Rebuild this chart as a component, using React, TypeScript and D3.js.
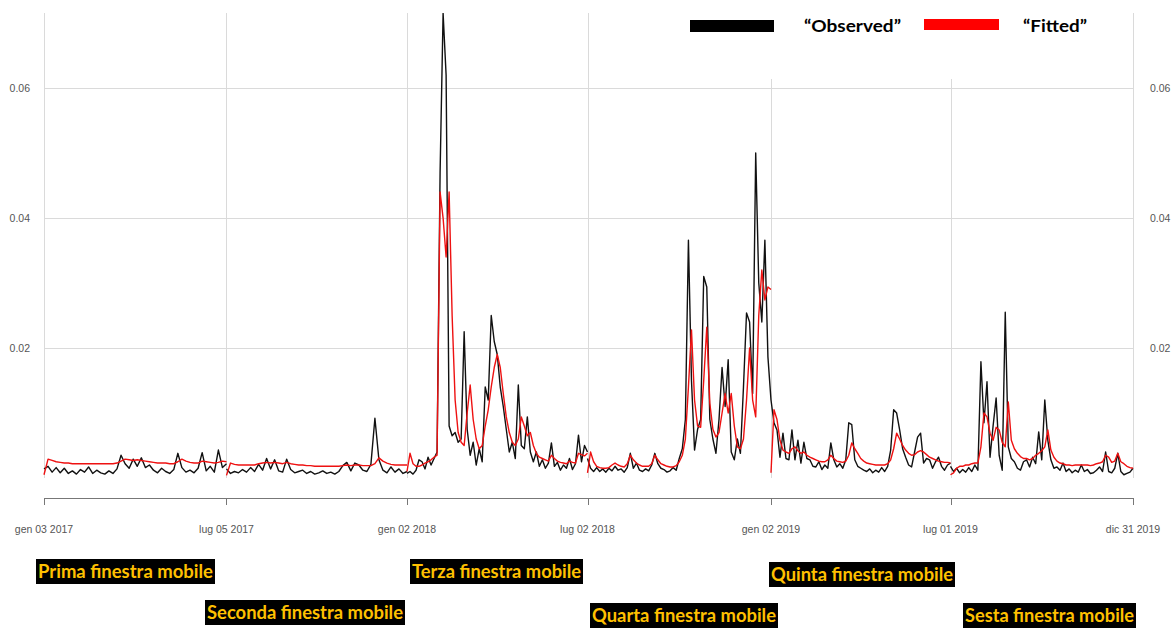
import React, { useEffect, useRef } from 'react';
import * as d3 from 'd3';

// rolling window boundaries (also the x axis ticks)
const windowDates = ['2017-01-03', '2017-07-05', '2018-01-02', '2018-07-02', '2019-01-02', '2019-07-01', '2019-12-31'];
const tickLabels = ['gen 03 2017', 'lug 05 2017', 'gen 02 2018', 'lug 02 2018', 'gen 02 2019', 'lug 01 2019', 'dic 31 2019'];
const yTicks = [0.02, 0.04, 0.06];
const windowNames = [
  'Prima finestra mobile',
  'Seconda finestra mobile',
  'Terza finestra mobile',
  'Quarta finestra mobile',
  'Quinta finestra mobile',
  'Sesta finestra mobile',
];

// series values, in thousandths (x 0.001), one array per window
const observed1 = [1.4, 1.8, 0.9, 1.6, 0.8, 1.5, 0.7, 1.1, 0.6, 1.3, 0.9, 1.7, 0.7, 1.2, 0.8, 0.6, 1.1, 0.7, 1.4, 3.5,
  2.2, 1.5, 2.9, 1.8, 3.1, 1.6, 2.0, 1.2, 0.8, 1.5, 1.0, 0.7, 1.3, 3.8, 1.6, 0.9, 1.2, 0.8, 1.5, 3.9,
  1.1, 1.8, 0.9, 4.3, 1.6, 2.2];
const fitted1 = [0.5, 2.9, 2.7, 2.5, 2.4, 2.3, 2.3, 2.2, 2.2, 2.2, 2.2, 2.2, 2.2, 2.2, 2.2, 2.2, 2.2, 2.2, 2.3, 2.6,
  2.9, 2.8, 2.7, 2.8, 2.7, 2.6, 2.5, 2.4, 2.3, 2.3, 2.3, 2.2, 2.2, 2.5, 2.9, 2.6, 2.4, 2.3, 2.3, 2.6,
  2.5, 2.4, 2.3, 2.4, 2.6, 2.5];

const observed2 = [1.4, 0.7, 1.0, 0.8, 1.3, 0.9, 1.6, 1.0, 2.1, 1.2, 3.0, 1.4, 2.8, 1.1, 0.9, 2.9, 1.3, 0.8, 1.0, 1.2,
  0.7, 1.0, 0.6, 0.8, 1.1, 0.7, 0.9, 0.6, 1.0, 1.9, 2.4, 1.1, 2.3, 2.0, 1.2, 1.0, 2.1, 9.2, 2.8, 1.2,
  0.8, 1.7, 0.9, 1.4, 0.7, 1.0];
const fitted2 = [0.4, 2.3, 2.1, 2.0, 2.0, 2.0, 2.0, 2.0, 2.2, 2.3, 2.4, 2.3, 2.4, 2.3, 2.2, 2.4, 2.2, 2.1, 2.0, 2.0,
  1.9, 1.9, 1.8, 1.8, 1.8, 1.8, 1.8, 1.8, 1.8, 1.9, 2.0, 1.9, 2.0, 2.0, 1.9, 1.9, 1.9, 2.2, 3.1, 2.6,
  2.3, 2.1, 2.0, 2.0, 2.0, 2.0];

const observed3 = [0.7, 1.0, 0.6, 1.2, 2.8, 2.5, 1.4, 3.2, 2.0, 3.0,
  4.0, 47, 71.5, 62, 8, 6.5, 7.0, 5.5, 6.0, 22.5,
  7.5, 3.5, 5.5, 2.0, 4.5, 2.5, 14, 12, 25, 21,
  19, 14, 11, 7.5, 4.0, 5.5, 3.0, 14.3, 5.0, 4.5,
  9.4, 4.0, 2.5, 4.0, 1.8, 2.8, 1.5, 2.3, 5.4, 1.8,
  2.4, 1.2, 2.0, 1.5, 3.0, 1.3, 2.2, 6.6, 2.5, 5.0,
  4.0];
const fitted3 = [1.0, 3.8, 2.2, 1.8, 1.8, 2.0, 2.3, 2.5, 2.8, 3.2,
  3.5, 44, 40, 34, 44, 25, 12, 7, 5.5, 5,
  10, 14.3, 9, 6, 4.5, 5, 8, 10.5, 14, 17,
  19, 17, 13, 9.4, 7, 5.5, 5, 6, 9.4, 8,
  6.5, 7, 5, 3.8, 3.2, 3.0, 2.8, 2.6, 3.5, 3.0,
  2.6, 2.4, 2.3, 2.2, 2.6, 2.4, 2.3, 3.8, 3.6, 3.4,
  3.8];

const observed4 = [3.0, 1.5, 1.0, 1.6, 1.0, 1.4, 0.9, 1.5, 1.1, 1.8,
  1.2, 1.4, 0.9, 1.6, 3.8, 1.5, 2.3, 1.2, 1.0, 1.4,
  1.1, 2.0, 3.8, 2.2, 1.5, 1.3, 0.9, 1.1, 1.6, 1.2,
  3.0, 4.5, 9, 36.6, 15, 4.3, 7.5, 9, 31, 29.4,
  9, 6, 3.8, 9, 17, 11, 18.2, 4, 2.8, 6,
  3.8, 14, 25.4, 24, 13, 50, 30, 24, 36.6, 18.6,
  12];
const fitted4 = [0.8, 4.0, 2.5, 1.8, 1.6, 1.5, 1.5, 1.6, 2.0, 2.3,
  2.0, 1.8, 1.7, 2.2, 3.5, 2.8, 2.3, 2.0, 1.8, 1.8,
  1.8, 2.2, 3.5, 2.8, 2.2, 2.0, 1.8, 1.7, 1.7, 1.9,
  2.5, 3.5, 6, 14, 22.8, 12, 8, 7.8, 15, 23.2,
  11.5, 7.5, 6.3, 7, 10, 13, 10, 13, 8, 4.8,
  4.5, 6, 12, 20, 12, 9.4, 25, 32, 27.4, 29.4,
  29];

const observed5 = [12, 8.5, 7.4, 3.2, 6.9, 3.0, 2.8, 7.4, 2.8, 5.8,
  2.3, 5.5, 3.0, 2.8, 1.8, 1.7, 2.5, 1.3, 2.0, 1.5,
  5.4, 2.8, 1.7, 2.2, 1.5, 2.8, 8.5, 8.2, 2.8, 1.8,
  1.5, 1.2, 1.0, 1.4, 0.8, 1.2, 0.9, 1.6, 1.0, 1.8,
  4.3, 10.5, 10.0, 7.4, 4.5, 3.2, 2.0, 1.7, 4.0, 6.3,
  6.9, 2.3, 3.0, 2.8, 1.5, 2.5, 3.2, 1.8, 1.2, 2.0,
  2.3];
const fitted5 = [0.8, 10.5, 9, 5.8, 4.3, 4.0, 3.8, 4.5, 4.8, 4.2,
  3.8, 4.0, 3.5, 3.2, 3.0, 2.8, 2.6, 2.5, 2.5, 2.8,
  3.5, 3.0, 2.6, 2.5, 2.4, 2.6, 3.5, 5.4, 4.5, 3.8,
  3.0, 2.6, 2.3, 2.2, 2.1, 2.0, 2.0, 2.0, 2.0, 2.2,
  2.8, 4.5, 6.9, 6.0, 5.0, 4.3, 3.8, 3.5, 3.6, 4.0,
  4.2, 4.0, 3.6, 3.2, 3.0, 2.8, 2.6, 2.5, 2.4, 2.4,
  2.3];

const observed6 = [1.8, 1.0, 1.5, 0.8, 1.3, 0.9, 1.6, 1.0, 2.0, 1.2,
  17.9, 8.5, 14.8, 3.2, 8, 12.3, 3.5, 1.2, 25.5, 4.8,
  3.0, 2.5, 1.5, 1.2, 2.5, 2.8, 1.7, 3.2, 2.2, 7.1,
  2.8, 12, 5.8, 2.8, 1.5, 1.7, 1.2, 2.3, 1.0, 1.4,
  0.8, 1.2, 0.9, 2.0, 1.0, 1.3, 0.7, 0.8, 1.2, 1.7,
  1.0, 4.0, 1.0, 0.8, 1.5, 3.8, 1.0, 0.5, 0.7, 0.9,
  1.5];
const fitted6 = [0.5, 0.8, 1.5, 1.8, 1.8, 2.0, 2.0, 2.2, 2.3, 2.3,
  4.8, 10, 9.4, 6.9, 5.8, 7.8, 7.4, 5.5, 4.8, 11.7,
  5.8, 4.5, 3.8, 3.3, 3.0, 3.0, 2.8, 3.0, 3.5, 3.8,
  4.2, 4.8, 7.4, 4.3, 3.2, 2.6, 2.3, 2.2, 2.0, 2.0,
  1.9, 2.0, 2.0, 2.0, 2.0, 2.0, 1.9, 2.0, 2.2, 2.3,
  2.5, 3.5, 3.2, 2.4, 2.6, 3.8, 2.5, 2.2, 1.8, 1.6,
  1.5];

const observedWindows = [observed1, observed2, observed3, observed4, observed5, observed6];
const fittedWindows = [fitted1, fitted2, fitted3, fitted4, fitted5, fitted6];

// where the yellow window captions sit (x, top, width)
const captionLayout = [
  [36, 559, 179],
  [205, 600, 200],
  [410, 559, 173],
  [590, 603, 188],
  [769, 562, 186],
  [963, 603, 173],
];

const WIDTH = 1172;
const HEIGHT = 628;

const App = () => {
  const ref = useRef<SVGSVGElement>(null);

  useEffect(() => {
    const svg = d3.select(ref.current);
    svg.selectAll('*').remove();

    const parse = d3.timeParse('%Y-%m-%d');
    const dates = windowDates.map((d) => parse(d) as Date);

    const x = d3.scaleTime().domain([dates[0], dates[dates.length - 1]]).range([44, 1133]);
    const y = d3.scaleLinear().domain([0, 0.0714]).range([478, 14]);
    const top = 13;

    svg.append('rect').attr('width', WIDTH).attr('height', HEIGHT).attr('fill', '#fff');

    const grid = svg.append('g').attr('stroke', '#dadada').attr('stroke-width', 1);
    grid
      .selectAll('line.v')
      .data(dates)
      .enter()
      .append('line')
      .attr('x1', (d) => Math.round(x(d)) + 0.5)
      .attr('x2', (d) => Math.round(x(d)) + 0.5)
      .attr('y1', top)
      .attr('y2', y(0));
    grid
      .selectAll('line.h')
      .data(yTicks)
      .enter()
      .append('line')
      .attr('x1', x(dates[0]))
      .attr('x2', x(dates[dates.length - 1]))
      .attr('y1', (d) => Math.round(y(d)) + 0.5)
      .attr('y2', (d) => Math.round(y(d)) + 0.5);

    // y labels on both sides
    const labelFont = "'Liberation Sans', Arial, sans-serif";
    svg
      .selectAll('text.yl')
      .data(yTicks)
      .enter()
      .append('text')
      .attr('x', 30)
      .attr('y', (d) => y(d) + 4)
      .attr('text-anchor', 'end')
      .attr('font-family', labelFont)
      .attr('font-size', 10.5)
      .attr('fill', '#555')
      .text((d) => d3.format('.2f')(d));
    svg
      .selectAll('text.yr')
      .data(yTicks)
      .enter()
      .append('text')
      .attr('x', 1150)
      .attr('y', (d) => y(d) + 4)
      .attr('font-family', labelFont)
      .attr('font-size', 10.5)
      .attr('fill', '#555')
      .text((d) => d3.format('.2f')(d));

    // legend (white box hides the grid under it)
    svg.append('rect').attr('x', 678).attr('y', 0).attr('width', 430).attr('height', 79).attr('fill', '#fff');
    const legendFont = "Lato, 'Open Sans', sans-serif";
    svg.append('rect').attr('x', 690).attr('y', 20).attr('width', 84).attr('height', 12).attr('fill', '#000');
    svg
      .append('text')
      .attr('x', 804)
      .attr('y', 32)
      .attr('font-family', legendFont)
      .attr('font-weight', 'bold')
      .attr('font-size', 17)
      .attr('textLength', 97)
      .attr('lengthAdjust', 'spacingAndGlyphs')
      .text('\u201cObserved\u201d');
    svg.append('rect').attr('x', 924).attr('y', 19).attr('width', 75).attr('height', 11).attr('fill', '#ff0000');
    svg
      .append('text')
      .attr('x', 1023)
      .attr('y', 32)
      .attr('font-family', legendFont)
      .attr('font-weight', 'bold')
      .attr('font-size', 17)
      .attr('textLength', 64)
      .attr('lengthAdjust', 'spacingAndGlyphs')
      .text('\u201cFitted\u201d');

    // series, one path per rolling window
    svg
      .append('clipPath')
      .attr('id', 'plot-clip')
      .append('rect')
      .attr('x', 40)
      .attr('y', top)
      .attr('width', 1100)
      .attr('height', 480);

    const plot = svg.append('g').attr('clip-path', 'url(#plot-clip)');

    const drawSeries = (windows: number[][], color: string) => {
      windows.forEach((vals, w) => {
        const xi = d3
          .scaleLinear()
          .domain([0, vals.length - 1])
          .range([x(dates[w]), x(dates[w + 1])]);
        const line = d3
          .line<number>()
          .x((_, i) => xi(i))
          .y((d) => y(d / 1000));
        plot
          .append('path')
          .attr('d', line(vals))
          .attr('fill', 'none')
          .attr('stroke', color)
          .attr('stroke-width', 1.4)
          .attr('stroke-linejoin', 'round');
      });
    };
    drawSeries(observedWindows, '#111');
    drawSeries(fittedWindows, '#ee1111');

    // x axis
    const axisY = 498;
    const axis = svg.append('g').attr('stroke', '#777').attr('stroke-width', 1);
    axis
      .append('line')
      .attr('x1', x(dates[0]))
      .attr('x2', x(dates[dates.length - 1]))
      .attr('y1', axisY + 0.5)
      .attr('y2', axisY + 0.5);
    axis
      .selectAll('line.t')
      .data(dates)
      .enter()
      .append('line')
      .attr('x1', (d) => Math.round(x(d)) + 0.5)
      .attr('x2', (d) => Math.round(x(d)) + 0.5)
      .attr('y1', axisY)
      .attr('y2', axisY + 7);
    svg
      .selectAll('text.xt')
      .data(dates)
      .enter()
      .append('text')
      .attr('x', (d) => x(d))
      .attr('y', 533)
      .attr('text-anchor', 'middle')
      .attr('font-family', labelFont)
      .attr('font-size', 10.5)
      .attr('fill', '#555')
      .text((_, i) => tickLabels[i]);

    // window captions
    windowNames.forEach((name, i) => {
      const [cx, cy, cw] = captionLayout[i];
      svg.append('rect').attr('x', cx).attr('y', cy).attr('width', cw).attr('height', 25).attr('fill', '#000');
      svg
        .append('text')
        .attr('x', cx + 2)
        .attr('y', cy + 19)
        .attr('font-family', legendFont)
        .attr('font-weight', 'bold')
        .attr('font-size', 18)
        .attr('fill', '#ffc000')
        .attr('textLength', cw - 4)
        .attr('lengthAdjust', 'spacingAndGlyphs')
        .text(name);
    });
  }, []);

  return (
    <div style={{ position: 'absolute', left: 0, top: 0 }}>
      <svg ref={ref} width={WIDTH} height={HEIGHT} style={{ display: 'block' }} />
    </div>
  );
};

export default App;
